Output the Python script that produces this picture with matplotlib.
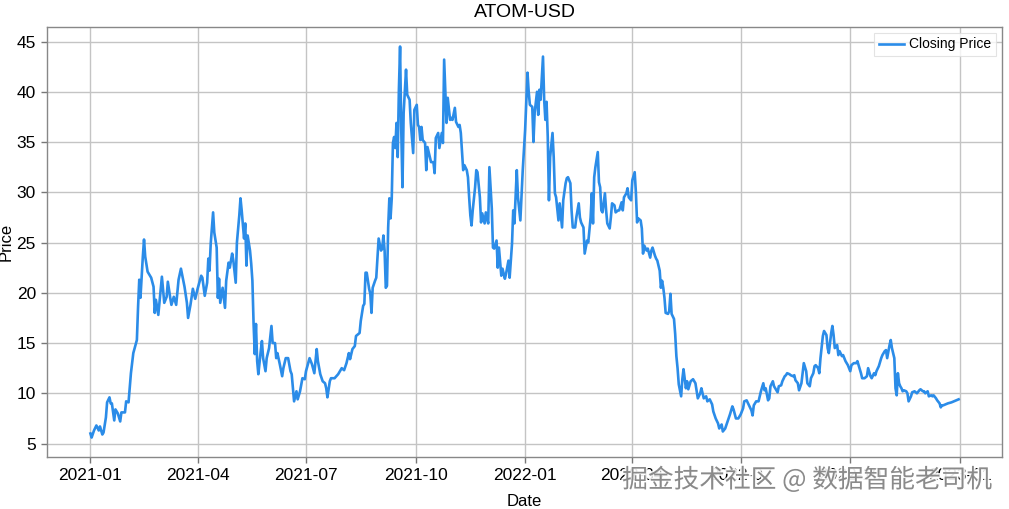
import matplotlib
matplotlib.use("Agg")
import matplotlib.pyplot as plt
import matplotlib.dates as mdates
import matplotlib.patheffects as pe
import pandas as pd

plt.rcParams['font.family'] = ['Liberation Sans', 'DejaVu Sans']

start_date = "2021-01-01"
day_offsets = [
    0, 1, 3, 5, 7, 8, 10, 11, 13, 14, 16, 17, 18, 20, 21, 23, 25, 26, 29, 30,
    32, 34, 36, 39, 40, 41, 42, 44, 45, 46, 48, 51, 53, 54, 55, 57, 58, 60, 62, 64,
    65, 67, 68, 70, 72, 74, 76, 79, 81, 82, 84, 86, 88, 90, 93, 94, 96, 98, 99, 100,
    101, 103, 104, 106, 107, 108, 109, 111, 113, 114, 116, 117, 119, 120, 122, 123, 125, 126, 127, 129,
    130, 131, 132, 134, 135, 136, 137, 138, 139, 140, 141, 143, 144, 145, 147, 148, 150, 152, 153, 155,
    156, 157, 159, 161, 162, 164, 166, 168, 169, 171, 173, 174, 176, 178, 180, 181, 184, 186, 188, 190,
    191, 193, 195, 197, 198, 199, 201, 202, 205, 208, 211, 213, 215, 217, 218, 220, 222, 223, 226, 227,
    229, 230, 231, 232, 234, 235, 236, 237, 239, 240, 241, 242, 244, 245, 246, 247, 248, 249, 250, 251,
    252, 253, 254, 255, 256, 257, 258, 259, 260, 261, 262, 263, 265, 266, 268, 269, 271, 272, 274, 275,
    276, 277, 278, 279, 281, 282, 283, 285, 286, 288, 289, 290, 292, 293, 295, 296, 297, 299, 300, 302,
    303, 304, 306, 307, 309, 310, 311, 313, 314, 316, 317, 318, 319, 320, 321, 323, 324, 325, 327, 328,
    329, 331, 332, 334, 335, 337, 338, 339, 341, 342, 343, 345, 346, 348, 349, 351, 352, 354, 355, 356,
    358, 359, 361, 363, 365, 366, 367, 368, 369, 371, 372, 373, 375, 376, 377, 378, 380, 381, 382, 383,
    384, 385, 386, 388, 389, 390, 391, 393, 394, 396, 397, 399, 400, 401, 403, 404, 405, 407, 408, 410,
    411, 412, 414, 415, 417, 418, 420, 421, 422, 423, 424, 426, 427, 428, 429, 430, 432, 433, 434, 436,
    437, 438, 440, 441, 443, 444, 446, 447, 448, 450, 451, 452, 454, 455, 457, 458, 459, 460, 462, 463,
    464, 465, 467, 468, 470, 471, 472, 474, 475, 476, 478, 479, 480, 481, 482, 483, 485, 486, 487, 488,
    490, 491, 492, 493, 494, 496, 497, 498, 500, 501, 502, 504, 506, 508, 510, 512, 513, 515, 517, 518,
    520, 522, 523, 525, 527, 528, 530, 531, 533, 535, 537, 539, 540, 542, 544, 546, 548, 549, 551, 553,
    555, 556, 557, 559, 561, 563, 565, 566, 567, 569, 570, 571, 573, 574, 576, 577, 578, 580, 581, 583,
    584, 585, 587, 588, 590, 591, 592, 594, 595, 597, 598, 599, 601, 602, 604, 605, 607, 608, 609, 611,
    612, 613, 615, 616, 618, 619, 620, 622, 623, 624, 625, 627, 628, 629, 631, 632, 634, 635, 636, 638,
    639, 641, 643, 644, 645, 647, 648, 650, 652, 653, 655, 656, 658, 659, 660, 662, 664, 665, 667, 668,
    669, 671, 672, 673, 675, 676, 677, 678, 679, 680, 681, 682, 683, 685, 686, 687, 689, 690, 692, 693,
    694, 696, 697, 699, 700, 701, 703, 704, 706, 707, 708, 710, 711, 713, 714, 715, 716, 718, 720, 723,
    725, 727, 729,
]
closing_price = [
    6.0, 5.6, 6.3, 6.8, 6.3, 6.7, 5.9, 6.1, 7.6, 9.1, 9.6, 9.0, 9.0, 7.3, 8.4, 8.0, 7.2, 8.1, 8.1, 9.2,
    9.1, 12.0, 14.0, 15.3, 18.6, 21.3, 19.5, 23.6, 25.3, 23.6, 22.1, 21.5, 20.6, 18.0, 19.3, 17.8, 19.1, 21.6, 19.0, 19.6,
    21.1, 19.5, 18.8, 19.6, 18.8, 21.3, 22.4, 20.6, 19.0, 17.5, 18.8, 20.4, 19.4, 20.4, 21.7, 21.5, 19.7, 21.0, 23.4, 22.2,
    24.9, 28.0, 26.0, 24.5, 19.5, 21.4, 19.0, 20.5, 18.5, 21.2, 23.0, 22.5, 23.9, 23.2, 21.0, 25.0, 27.7, 29.4, 28.2, 25.4,
    26.9, 22.7, 25.7, 24.2, 22.9, 21.2, 16.9, 13.9, 16.9, 13.2, 11.9, 14.2, 15.2, 13.5, 12.2, 13.5, 14.5, 16.7, 15.0, 15.0,
    13.5, 14.0, 12.9, 11.7, 12.5, 13.5, 13.5, 12.2, 11.9, 9.2, 10.2, 9.4, 10.2, 11.5, 11.4, 12.2, 13.5, 12.9, 12.0, 14.4,
    13.2, 11.9, 11.2, 11.0, 10.5, 9.6, 11.2, 11.5, 11.5, 11.9, 12.5, 12.3, 13.0, 14.0, 13.4, 14.4, 14.7, 15.7, 16.0, 17.2,
    18.7, 18.9, 22.0, 22.0, 20.4, 19.9, 18.0, 20.5, 21.2, 21.5, 23.5, 25.4, 24.2, 24.4, 25.7, 24.2, 20.5, 20.7, 26.5, 29.4,
    27.4, 29.4, 34.9, 35.5, 34.4, 36.9, 33.5, 40.2, 44.5, 36.2, 30.5, 37.9, 42.2, 39.7, 39.2, 36.9, 33.9, 38.2, 38.7, 36.7,
    36.5, 35.2, 36.5, 35.2, 34.9, 32.2, 34.5, 33.5, 33.0, 33.0, 31.9, 35.4, 35.9, 34.4, 35.9, 34.9, 43.2, 36.9, 39.4, 37.2,
    37.4, 37.2, 38.4, 37.0, 36.5, 36.7, 35.9, 32.2, 32.7, 32.2, 31.5, 29.5, 27.7, 26.7, 28.2, 30.5, 32.2, 32.0, 29.5, 27.0,
    27.9, 26.9, 28.0, 26.9, 32.5, 28.4, 24.5, 24.4, 25.2, 22.5, 24.5, 21.7, 22.4, 21.4, 21.9, 23.2, 21.5, 24.9, 28.2, 26.9,
    32.2, 29.5, 27.2, 32.2, 36.2, 39.0, 41.9, 40.0, 38.7, 38.5, 35.0, 37.9, 40.0, 37.7, 40.2, 39.2, 43.5, 39.2, 37.2, 39.0,
    35.5, 29.2, 33.5, 35.9, 33.5, 29.9, 29.5, 27.2, 28.9, 26.5, 29.2, 30.9, 31.4, 31.5, 30.9, 28.2, 26.5, 26.5, 27.5, 28.9,
    27.5, 27.0, 26.5, 23.9, 25.2, 25.0, 27.5, 29.9, 26.9, 31.5, 32.5, 34.0, 31.0, 30.5, 28.2, 28.0, 29.9, 28.2, 26.9, 26.4,
    27.5, 28.9, 28.7, 28.0, 28.2, 28.2, 29.0, 28.2, 29.5, 29.9, 30.4, 29.5, 29.2, 31.2, 32.0, 30.0, 27.0, 27.4, 27.2, 26.4,
    23.9, 24.7, 24.2, 24.4, 23.5, 24.2, 24.5, 23.7, 23.4, 23.2, 22.2, 20.5, 21.2, 20.5, 19.5, 18.0, 17.9, 18.2, 19.9, 17.9,
    17.4, 15.9, 13.7, 12.5, 10.9, 9.7, 11.4, 12.4, 10.5, 11.2, 10.4, 11.2, 11.4, 11.0, 9.5, 10.0, 10.5, 9.5, 9.7, 9.2,
    9.4, 8.9, 8.2, 7.5, 7.0, 6.5, 6.9, 6.2, 6.5, 7.2, 7.9, 8.7, 8.4, 7.5, 7.5, 7.9, 8.5, 9.2, 9.3, 8.8,
    8.3, 7.8, 8.8, 9.2, 9.2, 10.2, 11.0, 10.3, 10.5, 9.3, 9.5, 10.7, 11.2, 10.7, 10.3, 10.1, 10.7, 10.8, 11.2, 11.7,
    11.8, 12.0, 11.9, 11.8, 11.7, 11.8, 11.3, 11.0, 10.3, 11.0, 12.0, 13.0, 12.2, 11.0, 10.7, 11.5, 12.0, 12.7, 12.8, 12.5,
    12.0, 13.5, 15.7, 16.2, 15.8, 14.5, 14.0, 16.0, 16.7, 15.8, 14.5, 14.8, 13.8, 14.2, 13.7, 13.8, 13.2, 13.0, 12.8, 12.2,
    12.8, 13.0, 13.0, 13.2, 12.8, 12.0, 11.5, 11.5, 11.7, 12.5, 11.7, 11.5, 12.0, 11.8, 12.2, 12.7, 13.5, 13.8, 14.2, 14.3,
    13.5, 14.8, 15.3, 14.5, 13.5, 10.5, 9.8, 12.0, 11.0, 10.7, 10.5, 10.2, 10.3, 10.2, 10.0, 9.2, 9.7, 10.1, 10.2, 10.1,
    10.0, 10.3, 10.4, 10.2, 10.2, 10.0, 10.2, 9.7, 9.8, 9.7, 9.8, 9.5, 9.3, 9.0, 8.6, 8.8, 8.8, 8.9, 9.0, 9.1,
    9.2, 9.3, 9.4,
]

title = "ATOM-USD"
x_label = "Date"
y_label = "Price"
series_label = "Closing Price"
watermark = "掘金技术社区 @ 数据智能老司机"

dates = pd.Timestamp(start_date) + pd.to_timedelta(day_offsets, unit="D")

fig = plt.figure(figsize=(10.09, 5.09), dpi=100)
ax = fig.add_axes([0.0466, 0.102, 0.9465, 0.845])

ax.plot(dates, closing_price, color="#2B8CE8", linewidth=1.9, label=series_label)

ax.set_title(title, fontsize=14, pad=7)
ax.set_xlabel(x_label, fontsize=12, labelpad=8)
ax.set_ylabel(y_label, fontsize=12, labelpad=2)

ax.xaxis.set_major_locator(mdates.MonthLocator(bymonth=[1, 4, 7, 10]))
ax.xaxis.set_major_formatter(mdates.DateFormatter("%Y-%m"))
ax.set_yticks([5, 10, 15, 20, 25, 30, 35, 40, 45])

ax.tick_params(axis="both", labelsize=12.5, length=4, width=1, color="#777777", pad=4)
ax.grid(True, color="#c4c4c4", linewidth=1.0)
ax.set_axisbelow(True)
for s in ax.spines.values():
    s.set_color("#888888")
    s.set_linewidth(1.0)

leg = ax.legend(loc="upper right", fontsize=10, frameon=True, fancybox=False,
                handlelength=1.8, borderpad=0.35, handletextpad=0.4,
                borderaxespad=0.4)
leg.get_frame().set_edgecolor("#dddddd")
leg.get_frame().set_linewidth(0.8)

fig.text(0.984, 0.057, watermark, ha="right", va="center", fontsize=18.5,
         color="#7f7f7f", alpha=0.9,
         family=["Noto Sans CJK SC", "DejaVu Sans"],
         path_effects=[pe.withStroke(linewidth=2.5, foreground="white")])

fig.savefig("out.png", dpi=100)
